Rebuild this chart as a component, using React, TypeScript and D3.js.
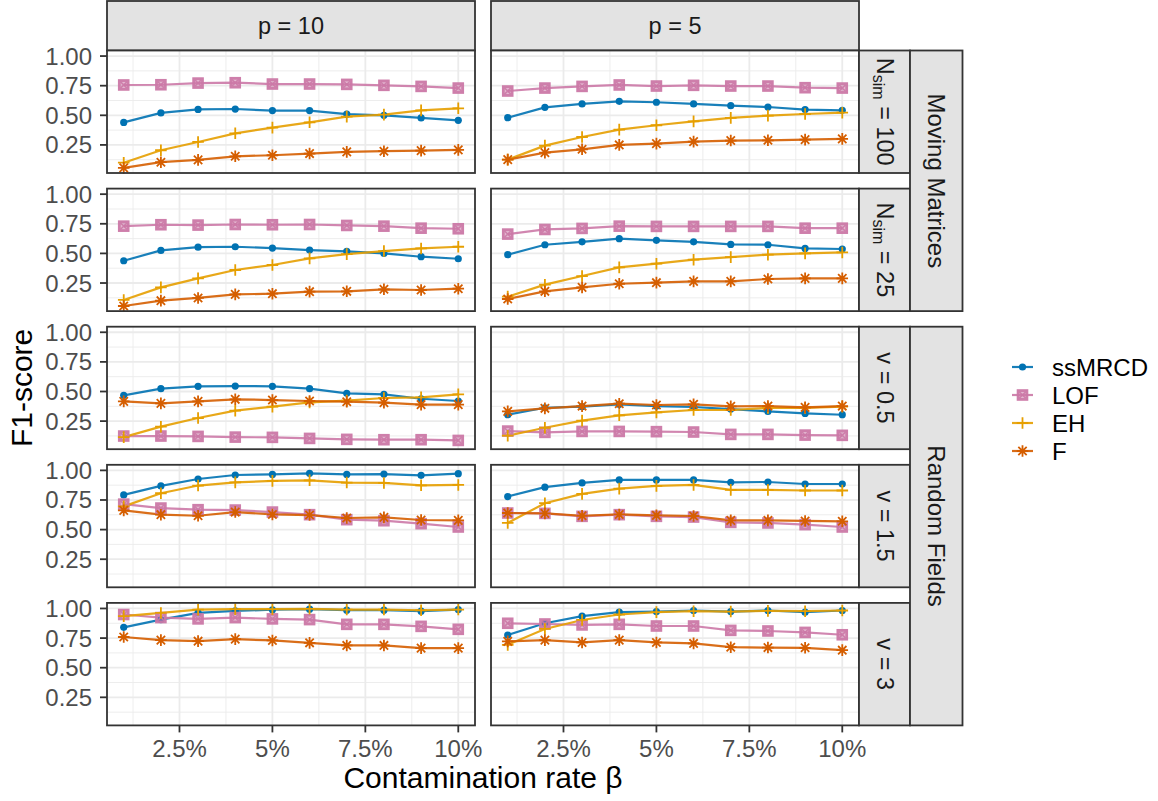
import React from 'react';
import * as d3 from 'd3';

// contamination rate (%) on the x axis
const rates = [1, 2, 3, 4, 5, 6, 7, 8, 9, 10];
const methods = ['ssMRCD', 'LOF', 'EH', 'F'];
const methodColors = ['#0072B2', '#CC79A7', '#E69F00', '#D55E00'];
const xTicks = [2.5, 5, 7.5, 10];
const xTickLabels = ['2.5%', '5%', '7.5%', '10%'];
const xMinor = [1.25, 3.75, 6.25, 8.75];
const yTicks = [0.25, 0.5, 0.75, 1];
const yTickLabels = ['0.25', '0.50', '0.75', '1.00'];
const yMinor = [0.125, 0.375, 0.625, 0.875];
const colLabels = ['p = 10', 'p = 5'];
// [main, subscript, rest]
const rowLabels = [
  ['N', 'sim', ' = 100'],
  ['N', 'sim', ' = 25'],
  ['v', '', ' = 0.5'],
  ['v', '', ' = 1.5'],
  ['v', '', ' = 3'],
];
const groupLabels = ['Moving Matrices', 'Random Fields'];

// each panel: rows are ssMRCD, LOF, EH, F
const mm100_p10 = [
  [0.44, 0.52, 0.55, 0.553, 0.54, 0.54, 0.51, 0.5, 0.478, 0.458],
  [0.756, 0.758, 0.772, 0.775, 0.764, 0.764, 0.761, 0.753, 0.744, 0.73],
  [0.1, 0.205, 0.275, 0.348, 0.396, 0.441, 0.489, 0.506, 0.542, 0.559],
  [0.056, 0.104, 0.124, 0.154, 0.163, 0.177, 0.191, 0.197, 0.202, 0.208],
];
const mm100_p5 = [
  [0.48, 0.567, 0.596, 0.618, 0.61, 0.596, 0.581, 0.57, 0.548, 0.542],
  [0.705, 0.73, 0.744, 0.756, 0.747, 0.753, 0.747, 0.747, 0.733, 0.73],
  [0.126, 0.244, 0.317, 0.379, 0.416, 0.449, 0.478, 0.497, 0.511, 0.522],
  [0.126, 0.185, 0.213, 0.25, 0.261, 0.278, 0.287, 0.289, 0.295, 0.301],
];
const mm25_p10 = [
  [0.438, 0.525, 0.553, 0.556, 0.545, 0.528, 0.517, 0.5, 0.472, 0.455],
  [0.73, 0.742, 0.739, 0.744, 0.742, 0.744, 0.736, 0.73, 0.713, 0.708],
  [0.107, 0.213, 0.289, 0.36, 0.402, 0.458, 0.494, 0.52, 0.542, 0.556],
  [0.056, 0.101, 0.124, 0.154, 0.16, 0.177, 0.18, 0.197, 0.191, 0.202],
];
const mm25_p5 = [
  [0.489, 0.573, 0.598, 0.624, 0.61, 0.598, 0.576, 0.573, 0.542, 0.537],
  [0.663, 0.702, 0.711, 0.73, 0.728, 0.728, 0.728, 0.728, 0.713, 0.713],
  [0.135, 0.236, 0.309, 0.382, 0.413, 0.447, 0.469, 0.489, 0.5, 0.508],
  [0.115, 0.18, 0.213, 0.244, 0.253, 0.264, 0.264, 0.284, 0.289, 0.289],
];
const rf05_p10 = [
  [0.468, 0.524, 0.544, 0.546, 0.544, 0.524, 0.485, 0.476, 0.439, 0.42],
  [0.124, 0.124, 0.121, 0.115, 0.113, 0.104, 0.096, 0.093, 0.093, 0.087],
  [0.115, 0.203, 0.276, 0.338, 0.372, 0.408, 0.423, 0.445, 0.451, 0.476],
  [0.417, 0.4, 0.417, 0.434, 0.428, 0.42, 0.414, 0.406, 0.389, 0.389],
];
const rf05_p5 = [
  [0.304, 0.363, 0.372, 0.392, 0.377, 0.369, 0.352, 0.332, 0.315, 0.304],
  [0.166, 0.155, 0.163, 0.163, 0.161, 0.158, 0.138, 0.138, 0.132, 0.13],
  [0.127, 0.194, 0.254, 0.299, 0.324, 0.344, 0.344, 0.361, 0.361, 0.372],
  [0.332, 0.358, 0.377, 0.397, 0.386, 0.392, 0.375, 0.377, 0.366, 0.377],
];
const rf15_p10 = [
  [0.793, 0.869, 0.927, 0.961, 0.966, 0.975, 0.966, 0.969, 0.958, 0.972],
  [0.715, 0.682, 0.668, 0.665, 0.648, 0.626, 0.584, 0.575, 0.55, 0.522],
  [0.696, 0.807, 0.872, 0.899, 0.911, 0.916, 0.897, 0.894, 0.874, 0.877],
  [0.662, 0.626, 0.617, 0.648, 0.628, 0.623, 0.598, 0.603, 0.581, 0.578],
];
const rf15_p5 = [
  [0.779, 0.858, 0.894, 0.919, 0.919, 0.919, 0.899, 0.902, 0.885, 0.885],
  [0.64, 0.637, 0.612, 0.626, 0.612, 0.606, 0.561, 0.556, 0.542, 0.522],
  [0.556, 0.723, 0.802, 0.846, 0.869, 0.877, 0.835, 0.835, 0.83, 0.83],
  [0.64, 0.637, 0.617, 0.628, 0.62, 0.615, 0.578, 0.578, 0.573, 0.57],
];
const rf3_p10 = [
  [0.841, 0.906, 0.963, 0.98, 0.989, 0.994, 0.986, 0.986, 0.977, 0.991],
  [0.949, 0.923, 0.912, 0.923, 0.912, 0.906, 0.866, 0.866, 0.849, 0.824],
  [0.935, 0.962, 0.99, 0.994, 0.994, 0.997, 0.991, 0.991, 0.985, 0.991],
  [0.759, 0.733, 0.724, 0.741, 0.73, 0.71, 0.688, 0.688, 0.665, 0.665],
];
const rf3_p5 = [
  [0.776, 0.875, 0.935, 0.969, 0.974, 0.983, 0.974, 0.983, 0.969, 0.983],
  [0.875, 0.869, 0.861, 0.866, 0.852, 0.852, 0.815, 0.81, 0.798, 0.778],
  [0.693, 0.827, 0.903, 0.949, 0.969, 0.977, 0.974, 0.98, 0.977, 0.983],
  [0.722, 0.733, 0.713, 0.733, 0.713, 0.705, 0.673, 0.67, 0.668, 0.648],
];

// grid of panels: [row][col]
const panels = [
  [mm100_p10, mm100_p5],
  [mm25_p10, mm25_p5],
  [rf05_p10, rf05_p5],
  [rf15_p10, rf15_p5],
  [rf3_p10, rf3_p5],
];

const FONT = '"Liberation Sans", Arial, Helvetica, sans-serif';

function Marker({ kind, cx, cy, color }) {
  const s = 5.8;
  if (kind === 0) return <circle cx={cx} cy={cy} r={3.6} fill={color} />;
  if (kind === 1) {
    const h = 4.4;
    return (
      <g stroke={color} fill={color} fillOpacity={0.55} opacity={0.95}>
        <rect x={cx - h} y={cy - h} width={2 * h} height={2 * h} strokeWidth={2.8} />
        <path d={`M${cx - h},${cy - h}L${cx + h},${cy + h}M${cx - h},${cy + h}L${cx + h},${cy - h}`} strokeWidth={1.6} />
      </g>
    );
  }
  if (kind === 2) {
    return (
      <path d={`M${cx - s},${cy}L${cx + s},${cy}M${cx},${cy - s}L${cx},${cy + s}`} stroke={color} strokeWidth={1.8} />
    );
  }
  const d = s * 0.72;
  return (
    <path
      d={`M${cx - s},${cy}L${cx + s},${cy}M${cx},${cy - s}L${cx},${cy + s}M${cx - d},${cy - d}L${cx + d},${cy + d}M${cx - d},${cy + d}L${cx + d},${cy - d}`}
      stroke={color}
      strokeWidth={1.8}
    />
  );
}

export default function App() {
  const W = 1158;
  const H = 801;
  const colX = [107, 491];
  const pw = 368;
  const rowTop = [50.5, 188.6, 326.7, 464.8, 602.9];
  const ph = 122.5;
  const innerX = 859;
  const innerW = 51;
  const outerX = 910;
  const outerW = 52.5;

  const x = d3.scaleLinear().domain([0.55, 10.45]).range([0, pw]);
  const y = d3.scaleLinear().domain([0.013, 1.047]).range([ph, 0]);
  const line = d3
    .line<number>()
    .x((_, i) => x(rates[i]))
    .y((d) => y(d));

  const groupSpans = [
    [rowTop[0], rowTop[1] + ph],
    [rowTop[2], rowTop[4] + ph],
  ];

  return (
    <svg width={W} height={H} style={{ position: 'absolute', left: 0, top: 0 }} fontFamily={FONT}>
      <rect width={W} height={H} fill="#fff" />

      {/* column strips */}
      {colLabels.map((lab, c) => (
        <g key={lab}>
          <rect x={colX[c]} y={1} width={pw} height={rowTop[0] - 1} fill="#E3E3E3" stroke="#333" strokeWidth={1.8} />
          <text x={colX[c] + pw / 2} y={25.5} textAnchor="middle" dominantBaseline="central" fontSize={23.5} fill="#1A1A1A">
            {lab}
          </text>
        </g>
      ))}

      {panels.map((row, r) => (
        <g key={r}>
          {row.map((series, c) => (
            <g key={c} transform={`translate(${colX[c]},${rowTop[r]})`}>
              <rect width={pw} height={ph} fill="#fff" />
              {yMinor.map((v) => (
                <line key={'ym' + v} x1={0} x2={pw} y1={y(v)} y2={y(v)} stroke="#EBEBEB" strokeWidth={0.9} />
              ))}
              {xMinor.map((v) => (
                <line key={'xm' + v} y1={0} y2={ph} x1={x(v)} x2={x(v)} stroke="#EBEBEB" strokeWidth={0.9} />
              ))}
              {yTicks.map((v) => (
                <line key={'y' + v} x1={0} x2={pw} y1={y(v)} y2={y(v)} stroke="#EBEBEB" strokeWidth={1.8} />
              ))}
              {xTicks.map((v) => (
                <line key={'x' + v} y1={0} y2={ph} x1={x(v)} x2={x(v)} stroke="#EBEBEB" strokeWidth={1.8} />
              ))}
              {series.map((vals, m) => (
                <path key={'l' + m} d={line(vals) || ''} fill="none" stroke={methodColors[m]} strokeWidth={2.2} opacity={0.9} />
              ))}
              {series.map((vals, m) =>
                vals.map((v, i) => <Marker key={m + '-' + i} kind={m} cx={x(rates[i])} cy={y(v)} color={methodColors[m]} />)
              )}
              <rect width={pw} height={ph} fill="none" stroke="#333" strokeWidth={1.8} />
            </g>
          ))}

          {/* y axis on the left column */}
          {yTicks.map((v, i) => (
            <g key={'yt' + v}>
              <line x1={colX[0] - 7} x2={colX[0]} y1={rowTop[r] + y(v)} y2={rowTop[r] + y(v)} stroke="#333" strokeWidth={1.8} />
              <text x={92} y={rowTop[r] + y(v)} textAnchor="end" dominantBaseline="central" fontSize={24} fill="#4D4D4D">
                {yTickLabels[i]}
              </text>
            </g>
          ))}

          {/* row strip */}
          <rect x={innerX} y={rowTop[r]} width={innerW} height={ph} fill="#E3E3E3" stroke="#333" strokeWidth={1.8} />
          <text
            transform={`translate(${innerX + innerW / 2},${rowTop[r] + ph / 2}) rotate(90)`}
            textAnchor="middle"
            dominantBaseline="central"
            fontSize={23.5}
            fill="#1A1A1A"
          >
            {rowLabels[r][0]}
            {rowLabels[r][1] ? (
              <tspan fontSize={16} dy={6}>
                {rowLabels[r][1]}
              </tspan>
            ) : null}
            <tspan dy={rowLabels[r][1] ? -6 : 0}>{rowLabels[r][2]}</tspan>
          </text>
        </g>
      ))}

      {/* x axis on the bottom row */}
      {colX.map((cx0) =>
        xTicks.map((v, i) => (
          <g key={cx0 + '-' + v}>
            <line x1={cx0 + x(v)} x2={cx0 + x(v)} y1={rowTop[4] + ph} y2={rowTop[4] + ph + 7} stroke="#333" strokeWidth={1.8} />
            <text x={cx0 + x(v)} y={757} textAnchor="middle" fontSize={24} fill="#4D4D4D">
              {xTickLabels[i]}
            </text>
          </g>
        ))
      )}

      {/* outer group strips */}
      {groupLabels.map((lab, g) => (
        <g key={lab}>
          <rect x={outerX} y={groupSpans[g][0]} width={outerW} height={groupSpans[g][1] - groupSpans[g][0]} fill="#E3E3E3" stroke="#333" strokeWidth={1.8} />
          <text
            transform={`translate(${outerX + outerW / 2},${(groupSpans[g][0] + groupSpans[g][1]) / 2}) rotate(90)`}
            textAnchor="middle"
            dominantBaseline="central"
            fontSize={24}
            fill="#1A1A1A"
          >
            {lab}
          </text>
        </g>
      ))}

      {/* axis titles */}
      <text x={(colX[0] + colX[1] + pw) / 2} y={788} textAnchor="middle" fontSize={30} fill="#000">
        Contamination rate β
      </text>
      <text transform={`translate(32,${(rowTop[0] + rowTop[4] + ph) / 2}) rotate(-90)`} textAnchor="middle" fontSize={30} fill="#000">
        F1-score
      </text>

      {/* legend */}
      {methods.map((m, i) => {
        const ly = 367 + i * 28;
        return (
          <g key={m}>
            <line x1={1012} x2={1033} y1={ly} y2={ly} stroke={methodColors[i]} strokeWidth={2.2} opacity={0.9} />
            <Marker kind={i} cx={1022.5} cy={ly} color={methodColors[i]} />
            <text x={1052} y={ly} dominantBaseline="central" fontSize={24} fill="#000">
              {m}
            </text>
          </g>
        );
      })}
    </svg>
  );
}
